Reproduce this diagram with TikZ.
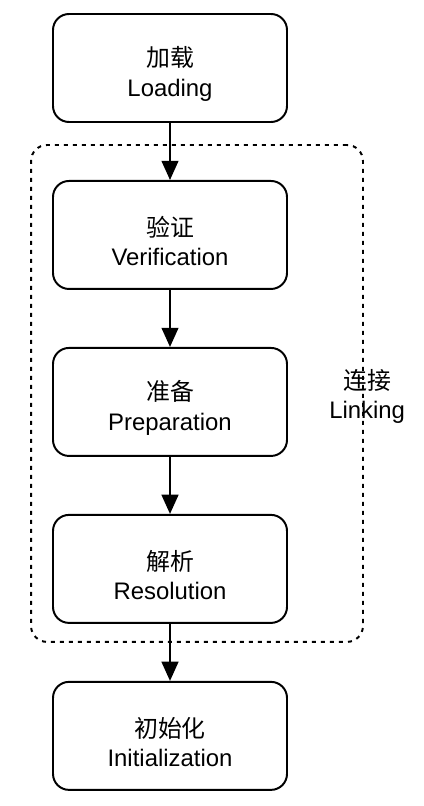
\documentclass[tikz,border=0pt]{standalone}
\usepackage{fontspec}
\setmainfont{Liberation Sans}
\newfontfamily\cjk{Noto Sans CJK SC}
\usepackage{tikz}
\usetikzlibrary{arrows.meta,positioning,fit,calc}

\begin{document}
\begin{tikzpicture}[
  stage/.style={draw, line width=1.4pt, rounded corners=0.4cm, minimum width=5.85cm, minimum height=2.7cm, inner sep=0pt},
  stagetext/.style={align=center, inner sep=0pt, yshift=-0.15cm, font=\fontsize{17}{21}\selectfont},
  arrow/.style={-{Triangle[length=0.48cm,width=0.42cm]}, line width=1.4pt},
  group/.style={draw, line width=1.4pt, dash pattern=on 0.1cm off 0.125cm, rounded corners=0.4cm, inner sep=0pt}
]
\useasboundingbox (0,0) rectangle (10.6,-20.15);

\node[stage, label={[stagetext]center:{{\cjk 加载}\\Loading}}] (loading) at (4.25,-1.7) {};
\node[stage, below=1.425cm of loading, label={[stagetext]center:{{\cjk 验证}\\Verification}}] (verification) {};
\node[stage, below=1.425cm of verification, label={[stagetext]center:{{\cjk 准备}\\Preparation}}] (preparation) {};
\node[stage, below=1.425cm of preparation, label={[stagetext]center:{{\cjk 解析}\\Resolution}}] (resolution) {};
\node[stage, below=1.425cm of resolution, label={[stagetext]center:{{\cjk 初始化}\\Initialization}}] (init) {};

% dotted frame round the linking phase
\coordinate (lk1) at ($(verification.north west)+(-0.525,0.875)$);
\coordinate (lk2) at ($(resolution.south east)+(1.875,-0.45)$);
\node[group, fit=(lk1)(lk2)] (linking) {};
\node[align=center, font=\fontsize{17}{21}\selectfont, xshift=0.08cm, yshift=-0.08cm] (linklabel) at (linking.east) {{\cjk 连接}\\Linking};

\draw[arrow] (loading) -- (verification);
\draw[arrow] (verification) -- (preparation);
\draw[arrow] (preparation) -- (resolution);
\draw[arrow] (resolution) -- (init);
\end{tikzpicture}
\end{document}
